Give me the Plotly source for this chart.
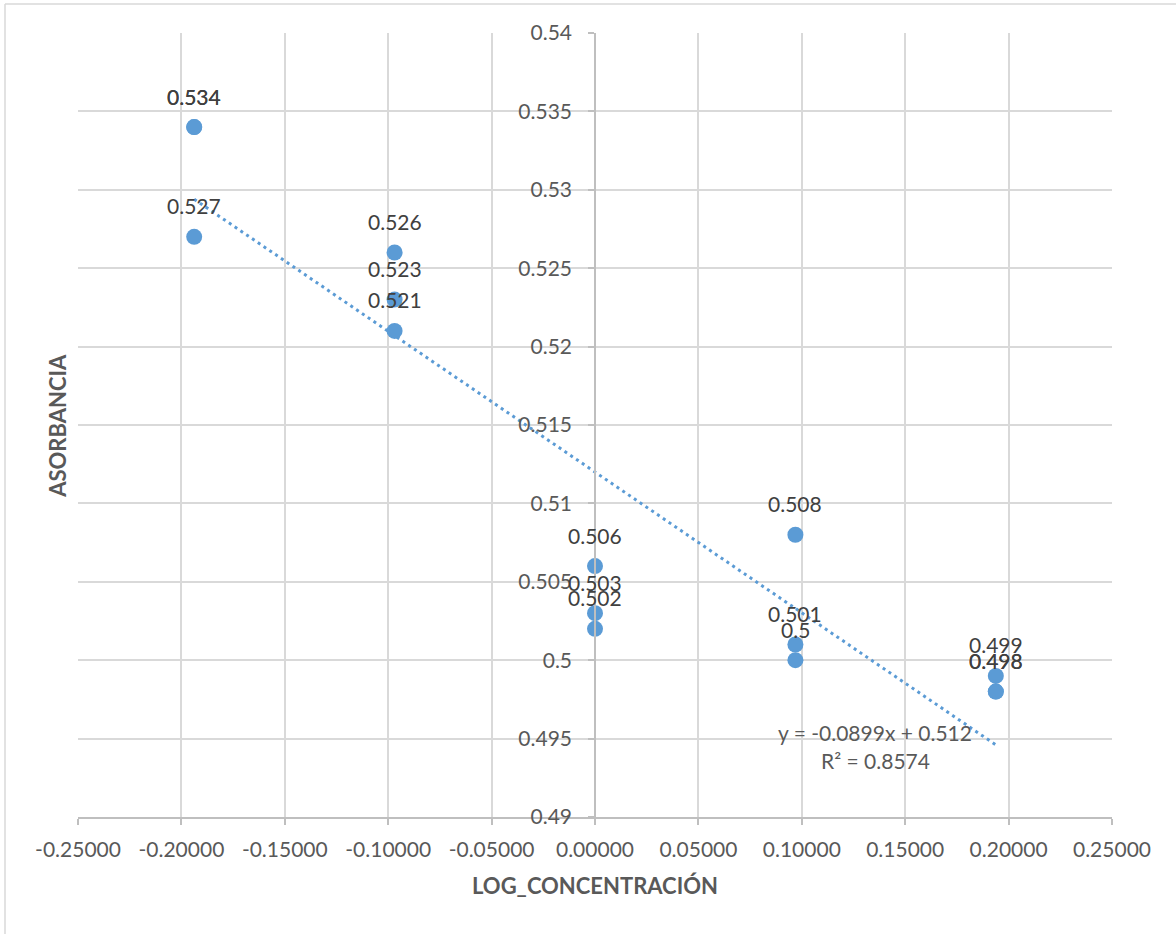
import numpy as np
import plotly.graph_objects as go

# ---- data ----
log_conc = [-0.19382, -0.19382, -0.19382,
            -0.09691, -0.09691, -0.09691,
            0.0, 0.0, 0.0,
            0.09691, 0.09691, 0.09691,
            0.19382, 0.19382, 0.19382]
absorbancia = [0.534, 0.534, 0.527,
               0.526, 0.523, 0.521,
               0.506, 0.503, 0.502,
               0.508, 0.501, 0.500,
               0.499, 0.498, 0.498]
point_labels = ["0.534", "0.534", "0.527",
                "0.526", "0.523", "0.521",
                "0.506", "0.503", "0.502",
                "0.508", "0.501", "0.5",
                "0.499", "0.498", "0.498"]

x_tickvals = [-0.25, -0.20, -0.15, -0.10, -0.05, 0.0, 0.05, 0.10, 0.15, 0.20, 0.25]
x_ticktext = ["-0.25000", "-0.20000", "-0.15000", "-0.10000", "-0.05000", "0.00000",
              "0.05000", "0.10000", "0.15000", "0.20000", "0.25000"]
y_tickvals = [0.49, 0.495, 0.50, 0.505, 0.51, 0.515, 0.52, 0.525, 0.53, 0.535, 0.54]
y_ticktext = ["0.49", "0.495", "0.5", "0.505", "0.51", "0.515", "0.52", "0.525", "0.53", "0.535", "0.54"]

equation_text = "y = -0.0899x + 0.512"
r2_text = "R² = 0.8574"
x_title = "LOG_CONCENTRACIÓN"
y_title = "ASORBANCIA"

# ---- styles ----
FONT = "Lato, 'Open Sans', sans-serif"
BLUE = "#5b9bd5"
GRID = "#d9d9d9"
AXIS = "#bfbfbf"
TICK_COLOR = "#595959"
LABEL_COLOR = "#404040"

# trendline from data
slope, intercept = np.polyfit(log_conc, absorbancia, 1)
tx = np.array([min(log_conc), max(log_conc)])
ty = slope * tx + intercept

fig = go.Figure()
fig.add_trace(go.Scatter(
    x=tx, y=ty, mode="lines",
    line=dict(color=BLUE, width=3, dash="3px,4px"),
    hoverinfo="skip", showlegend=False,
))
fig.add_trace(go.Scatter(
    x=log_conc, y=absorbancia, mode="markers",
    marker=dict(size=16, color=BLUE),
    showlegend=False,
))

annotations = []
for xv, yv, lab in zip(log_conc, absorbancia, point_labels):
    annotations.append(dict(
        x=xv, y=yv, xref="x", yref="y", text=lab, showarrow=False,
        yshift=31, font=dict(family=FONT, size=21, color=LABEL_COLOR),
    ))
annotations.append(dict(
    x=0.1354, y=0.49542, xref="x", yref="y", text=equation_text, showarrow=False,
    font=dict(family=FONT, size=21, color=TICK_COLOR),
))
annotations.append(dict(
    x=0.1354, y=0.49363, xref="x", yref="y", text=r2_text, showarrow=False,
    font=dict(family=FONT, size=21, color=TICK_COLOR),
))
annotations.append(dict(
    x=0.5, y=-0.088, xref="paper", yref="paper", text="<b>" + x_title + "</b>",
    showarrow=False, xanchor="center", yanchor="middle",
    font=dict(family=FONT, size=22, color=TICK_COLOR),
))
annotations.append(dict(
    x=-0.0193, y=0.499, xref="paper", yref="paper", text="<b>" + y_title + "</b>",
    showarrow=False, textangle=-90, xanchor="center", yanchor="middle",
    font=dict(family=FONT, size=22, color=TICK_COLOR),
))

fig.update_layout(
    width=1176, height=934,
    margin=dict(l=78, r=64, t=33, b=117),
    paper_bgcolor="white", plot_bgcolor="white",
    showlegend=False,
    annotations=annotations,
    xaxis=dict(
        range=[-0.25, 0.25], tickvals=x_tickvals, ticktext=x_ticktext,
        showgrid=True, gridcolor=GRID, gridwidth=1.5,
        zeroline=False, showline=True, linecolor=AXIS, linewidth=1.5,
        ticks="outside", ticklen=6, tickcolor=AXIS, tickwidth=1.5,
        tickfont=dict(family=FONT, size=21, color=TICK_COLOR),
        ticklabelstandoff=7,
    ),
    yaxis=dict(
        range=[0.49, 0.54], tickvals=y_tickvals, ticktext=y_ticktext,
        showgrid=True, gridcolor=GRID, gridwidth=1.5,
        zeroline=False, showline=True, linecolor=AXIS, linewidth=1.5,
        ticks="outside", ticklen=6, tickcolor=AXIS, tickwidth=1.5,
        tickfont=dict(family=FONT, size=21, color=TICK_COLOR),
        anchor="free", position=0.5,
        ticklabelstandoff=12,
    ),
    shapes=[
        dict(type="line", xref="paper", yref="paper",
             x0=(5 - 78) / 1034, x1=(1176 - 78) / 1034,
             y0=(817 - 4) / 784, y1=(817 - 4) / 784,
             line=dict(color=GRID, width=1.5)),
        dict(type="line", xref="paper", yref="paper",
             x0=(5 - 78) / 1034, x1=(5 - 78) / 1034,
             y0=(817 - 4) / 784, y1=(817 - 934) / 784,
             line=dict(color=GRID, width=1.5)),
    ],
)

fig.write_html("out.html", config={"displayModeBar": False},
               post_script="document.body.style.margin='0px';")
